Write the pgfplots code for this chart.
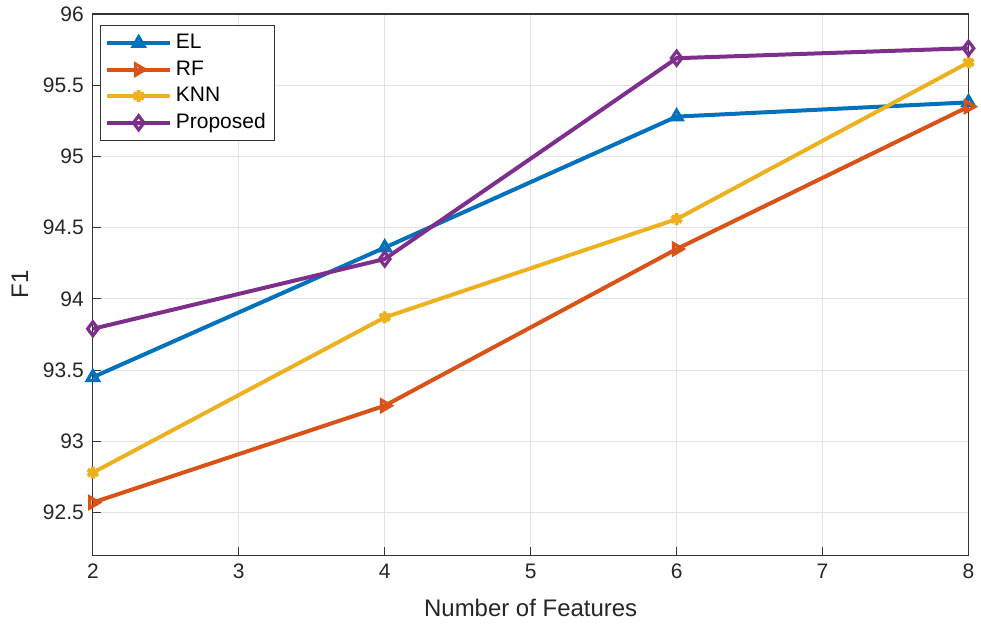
\documentclass[border=0pt]{standalone}
\usepackage{fontspec}
\setmainfont{Liberation Sans}
\usepackage{pgfplots}
\pgfplotsset{compat=1.18}
\definecolor{c1}{rgb}{0,0.447,0.741}
\definecolor{c2}{rgb}{0.85,0.325,0.098}
\definecolor{c3}{rgb}{0.929,0.694,0.125}
\definecolor{c4}{rgb}{0.494,0.184,0.556}
\begin{document}
\begin{tikzpicture}
\begin{axis}[
  width=438.5pt, height=271pt, scale only axis,
  xmin=2, xmax=8, ymin=92.2, ymax=96,
  xtick={2,3,4,5,6,7,8},
  ytick={92.5,93,93.5,94,94.5,95,95.5,96},
  yticklabels={92.5,93,93.5,94,94.5,95,95.5,96},
  /pgf/number format/assume math mode=true,
  tick label style={font=\fontsize{10.5}{12}\selectfont, text=black!85},
  yticklabel style={xshift=-1pt},
  xticklabel style={yshift=-1pt},
  xlabel={Number of Features}, ylabel={F1},
  every axis y label/.style={at={(axis description cs:0,0.5)}, xshift=-36.5pt, rotate=90, anchor=center, inner sep=0pt, font=\fontsize{12}{14}\selectfont, text=black!85},
  every axis x label/.style={at={(axis description cs:0.5,0)}, yshift=-26.5pt, anchor=center, inner sep=0pt, font=\fontsize{12}{14}\selectfont, text=black!85},
  grid=major, major grid style={gray!22, line width=0.5pt},
  axis line style={black!80, line width=0.6pt},
  tick style={black!80, line width=0.6pt},
  tick align=inside, major tick length=4pt,
  xtick pos=bottom, ytick pos=left,
  legend style={at={(0.008,0.98)}, anchor=north west, draw=black!80, line width=0.6pt, font=\fontsize{10.5}{12}\selectfont, row sep=0.5pt, inner sep=2.5pt},
  legend cell align=left,
  legend image code/.code={\draw[mark repeat=2,mark phase=2] plot coordinates {(0cm,0cm) (0.55cm,0cm) (1.1cm,0cm)};},
  every axis plot/.append style={line width=2pt, mark size=3.2pt},
]
\addplot[c1, mark=triangle, mark options={line width=1.6pt}] coordinates {(2,93.45) (4,94.36) (6,95.28) (8,95.38)};
\addlegendentry{EL}
\addplot[c2, mark=triangle, mark options={rotate=-90, line width=1.6pt}] coordinates {(2,92.57) (4,93.25) (6,94.35) (8,95.35)};
\addlegendentry{RF}
\addplot[c3, mark=asterisk, mark options={line width=2pt, mark size=3pt}] coordinates {(2,92.78) (4,93.87) (6,94.56) (8,95.66)};
\addlegendentry{KNN}
\addplot[c4, mark=diamond, mark options={line width=1.6pt, mark size=3.5pt}] coordinates {(2,93.79) (4,94.28) (6,95.69) (8,95.76)};
\addlegendentry{Proposed}
\end{axis}
\path (current axis.south west) ++(-46.5pt,-36pt) coordinate (bbsw);
\path (current axis.north east) ++(5.5pt,7pt) coordinate (bbne);
\end{tikzpicture}
\end{document}
